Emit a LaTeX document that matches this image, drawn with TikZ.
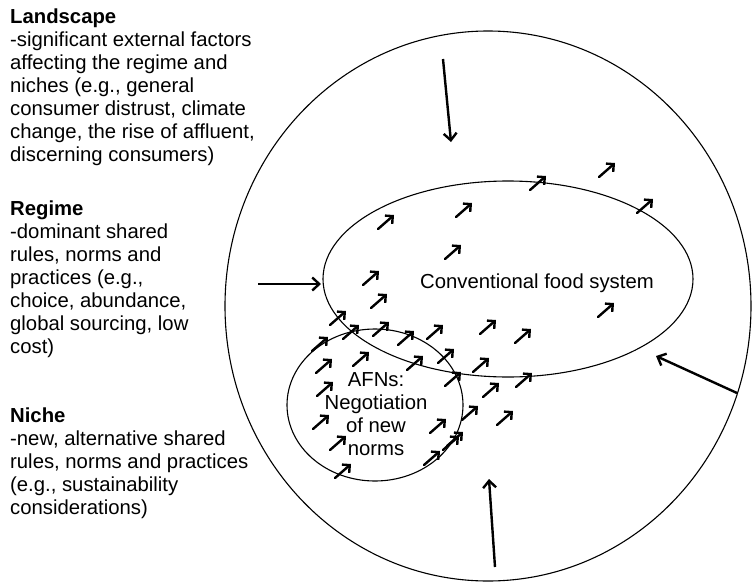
\documentclass[tikz,border=0pt]{standalone}
\usepackage{fontspec}
\setmainfont{Liberation Sans}
\usetikzlibrary{arrows.meta,shapes.geometric}
\tikzset{
  ring/.style={draw, ellipse, inner sep=0pt, line width=1.1pt},
  bigarr/.style={line width=2.4pt, -{Straight Barb[length=7pt,width=13pt,line width=2.4pt]}},
  smallarr/.style={line width=2.4pt, line cap=round, -{Straight Barb[length=5.5pt,width=11pt,line width=2.4pt]}},
  sidetext/.style={anchor=north west, align=left, inner sep=0pt, font=\fontsize{20.3}{23}\selectfont},
  labeltext/.style={inner sep=0pt, font=\fontsize{20.3}{23}\selectfont}
}
\begin{document}
\begin{tikzpicture}[x=1pt,y=-1pt]
\useasboundingbox (0,0) rectangle (756,584);
% ellipses
\node[ring, minimum width=526pt, minimum height=550pt] (outer) at (488,306) {};
\node[ring, minimum width=370pt, minimum height=196pt] (conv) at (508,279) {};
\node[ring, minimum width=176pt, minimum height=152pt] (afn) at (375,405) {};
% labels
\node[labeltext, anchor=base west] (convlabel) at (420,288) {Conventional food system};
\node[labeltext, anchor=north, align=center] (afnlabel) at (376,372.5) {AFNs:\\Negotiation\\of new\\norms};
% side texts
\node[sidetext] (landscapetext) at (10,8.5) {\textbf{Landscape}\\-significant external factors\\affecting the regime and\\niches (e.g., general\\consumer distrust, climate\\change, the rise of affluent,\\discerning consumers)};
\node[sidetext] (regimetext) at (10,200.5) {\textbf{Regime}\\-dominant shared\\rules, norms and\\practices (e.g.,\\choice, abundance,\\global sourcing, low\\cost)};
\node[sidetext] (nichetext) at (10,407.5) {\textbf{Niche}\\-new, alternative shared\\rules, norms and practices\\(e.g., sustainability\\considerations)};
% big arrows
\coordinate (topS) at (443,59);   \coordinate (topE) at (451,142);
\coordinate (leftS) at (258,284); \coordinate (leftE) at (321,284);
\coordinate (rightS) at (737,393); \coordinate (rightE) at (656,356);
\coordinate (botS) at (495,567);  \coordinate (botE) at (489,479);
\draw[bigarr] (topS) -- (topE);
\draw[bigarr] (leftS) -- (leftE);
\draw[bigarr] (rightS) -- (rightE);
\draw[bigarr] (botS) -- (botE);
% small arrows
\foreach \cx/\cy in {538/183, 607/170, 645/206, 464/210, 386/222, 453/252, 371/278, 379/301,
  606/310, 523/336, 524/380, 338/318, 351/332, 381/329, 406/338, 435/332, 488/327,
  320/344, 324/366, 361/359, 415/363, 446/356, 481/365, 453/379, 325/389, 491/390,
  470/413, 321/422, 505/418, 438/426, 338/443, 451/443, 455/439, 432/458, 343/471}
  \draw[smallarr] (\cx-8,\cy+7) -- (\cx+8,\cy-7);
\end{tikzpicture}
\end{document}
